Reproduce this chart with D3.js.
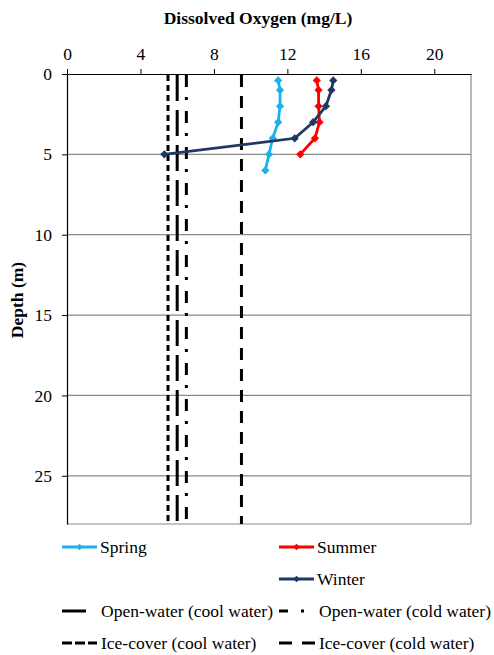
<!DOCTYPE html>
<html><head><meta charset="utf-8">
<script src="https://cdn.jsdelivr.net/npm/d3@7"></script>
<style>body{margin:0;background:#fff;} svg{display:block;}</style>
</head><body>
<svg id="c" width="494" height="655" font-family="Liberation Serif, Times New Roman, Times, serif"></svg>
<script>
const FONT = "Liberation Serif, Times New Roman, Times, serif";
const xTicks = [0, 4, 8, 12, 16, 20];
const yTicks = [0, 5, 10, 15, 20, 25];
const springDepth = [0.4, 1, 2, 3, 4, 5, 6];
const springDO = [11.5, 11.6, 11.6, 11.5, 11.2, 11.0, 10.8];
const summerDepth = [0.4, 1, 2, 3, 4, 5];
const summerDO = [13.6, 13.7, 13.7, 13.75, 13.5, 12.7];
const winterDepth = [0.4, 1, 2, 3, 4, 5];
const winterDO = [14.5, 14.4, 14.1, 13.4, 12.4, 5.3];
const seriesNames = ["Spring", "Summer", "Winter"];
const seriesColors = ["#1ab2ea", "#ff0000", "#1f3864"];
const criteriaNames = ["Open-water (cool water)", "Open-water (cold water)", "Ice-cover (cool water)", "Ice-cover (cold water)"];
const criteriaValues = [6.0, 6.5, 5.5, 9.5];
const criteriaDash = ["26,9", "12,10,3,11", "6,4", "12,9"];
const legendDash = [null, "9,13,3,40", "10,3", "13,10"];

const svg = d3.select("#c");
const L = 67, R = 471, T = 74, B = 524;
const FS = 17.5;
const x = d3.scaleLinear().domain([0, 22]).range([L, R]);
const y = d3.scaleLinear().domain([0, 28]).range([T, B]);

// grid
svg.append("g").selectAll("line").data(yTicks.filter(d => d > 0)).join("line")
  .attr("x1", L).attr("x2", R).attr("y1", d => y(d)).attr("y2", d => y(d))
  .attr("stroke", "#8a8a8a").attr("stroke-width", 1.2);
svg.append("line").attr("x1", R).attr("x2", R).attr("y1", T).attr("y2", B).attr("stroke", "#8a8a8a").attr("stroke-width", 1.2);
svg.append("line").attr("x1", L).attr("x2", R).attr("y1", B).attr("y2", B).attr("stroke", "#8a8a8a").attr("stroke-width", 1.2);

// axes
const xa = svg.append("g").attr("transform", `translate(0,${T})`)
  .call(d3.axisTop(x).tickValues(xTicks).tickSize(5).tickSizeOuter(0).tickFormat(d3.format("d")));
const ya = svg.append("g").attr("transform", `translate(${L},0)`)
  .call(d3.axisLeft(y).tickValues(yTicks).tickSize(5).tickSizeOuter(0).tickFormat(d3.format("d")));
[xa, ya].forEach(a => {
  a.attr("font-family", FONT).attr("font-size", FS);
  a.select(".domain").attr("stroke", "#000").attr("stroke-width", 1.2);
  a.selectAll(".tick line").attr("stroke", "#000");
  a.selectAll("text").attr("fill", "#000");
});
xa.selectAll("text").attr("dy", 0).attr("y", -14);
ya.selectAll("text").attr("x", -15);

// titles
svg.append("text").attr("x", 258).attr("y", 24).attr("text-anchor", "middle")
  .attr("font-size", FS).attr("font-weight", "bold").text("Dissolved Oxygen (mg/L)");
svg.append("text").attr("transform", "translate(23,300) rotate(-90)").attr("text-anchor", "middle")
  .attr("font-size", FS).attr("font-weight", "bold").text("Depth (m)");

// criteria lines
criteriaValues.forEach((v, i) => {
  svg.append("line").attr("x1", x(v)).attr("x2", x(v)).attr("y1", T + 1).attr("y2", B)
    .attr("stroke", "#000").attr("stroke-width", 3)
    .attr("stroke-dasharray", criteriaDash[i]);
});

// series
const marker = d3.symbol().type(d3.symbolSquare).size(34);
const seriesData = [
  springDepth.map((d, i) => [springDO[i], d]),
  summerDepth.map((d, i) => [summerDO[i], d]),
  winterDepth.map((d, i) => [winterDO[i], d])
];
const line = d3.line().x(d => x(d[0])).y(d => y(d[1]));
seriesData.forEach((data, i) => {
  svg.append("path").datum(data).attr("d", line).attr("fill", "none")
    .attr("stroke", seriesColors[i]).attr("stroke-width", 2.8);
  svg.append("g").selectAll("path").data(data).join("path")
    .attr("d", marker).attr("transform", d => `translate(${x(d[0])},${y(d[1])}) rotate(45)`)
    .attr("fill", seriesColors[i]);
});

// legend
const lg = svg.append("g");
const seriesPos = [[62, 547], [279, 547], [279, 579]];
seriesNames.forEach((n, i) => {
  const [lx, ly] = seriesPos[i];
  lg.append("line").attr("x1", lx).attr("x2", lx + 35).attr("y1", ly).attr("y2", ly)
    .attr("stroke", seriesColors[i]).attr("stroke-width", 2.8);
  lg.append("path").attr("d", d3.symbol().type(d3.symbolSquare).size(22)())
    .attr("transform", `translate(${lx + 17.5},${ly}) rotate(45)`).attr("fill", seriesColors[i]);
  lg.append("text").attr("x", lx + 38).attr("y", ly + 5.5).attr("font-size", FS).text(n);
});
const critPos = [[62, 611, 86, 101], [279, 611, 305, 319], [62, 643, 97, 101], [279, 643, 315, 319]];
criteriaNames.forEach((n, i) => {
  const [lx, ly, lx2, tx] = critPos[i];
  lg.append("line").attr("x1", lx).attr("x2", lx2).attr("y1", ly).attr("y2", ly)
    .attr("stroke", "#000").attr("stroke-width", 3)
    .attr("stroke-dasharray", legendDash[i]);
  lg.append("text").attr("x", tx).attr("y", ly + 5.5).attr("font-size", FS).text(n);
});
</script>
</body></html>
